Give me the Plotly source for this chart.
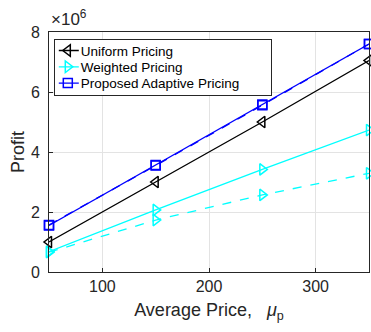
import plotly.graph_objects as go

x_price = [50, 150, 250, 350]
uniform = [1.0e6, 3.0e6, 5.0e6, 7.05e6]
weighted_solid = [0.68e6, 2.07e6, 3.42e6, 4.73e6]
weighted_dashed = [0.66e6, 1.73e6, 2.57e6, 3.29e6]
adaptive_solid = [1.55e6, 3.57e6, 5.58e6, 7.6e6]
adaptive_dashed = [1.57e6, 3.55e6, 5.56e6, 7.6e6]

FONT = "Liberation Sans, Arial, Helvetica, sans-serif"
TXT = "#262626"

fig = go.Figure()

def add(y, name, color, symbol, dash, show, size=10):
    fig.add_trace(go.Scatter(
        x=x_price, y=y, name=name, mode="lines+markers",
        line=dict(color=color, width=1.3, dash=dash),
        marker=dict(symbol=symbol, size=size, color=color, line=dict(color=color, width=1.5)),
        showlegend=show, cliponaxis=False))

add(weighted_dashed, "Weighted Pricing (dashed)", "#00FFFF", "triangle-right-open", "dash", False)
add(weighted_solid, "Weighted Pricing", "#00FFFF", "triangle-right-open", "solid", False)
add(uniform, "Uniform Pricing", "#000000", "triangle-left-open", "solid", False)
add(adaptive_dashed, "Proposed Adaptive Pricing (dashed)", "#0000FF", "square-open", "dash", False, 9)
add(adaptive_solid, "Proposed Adaptive Pricing", "#0000FF", "square-open", "solid", False, 9)

for name, color, symbol, size in [("Uniform Pricing", "#000000", "triangle-left-open", 10),
                                  ("Weighted Pricing", "#00FFFF", "triangle-right-open", 10),
                                  ("Proposed Adaptive Pricing", "#0000FF", "square-open", 9)]:
    fig.add_trace(go.Scatter(x=[None], y=[None], name=name, mode="lines+markers",
                             line=dict(color=color, width=1.3),
                             marker=dict(symbol=symbol, size=size, color=color, line=dict(color=color, width=1.5)),
                             showlegend=True))

axis_common = dict(showgrid=True, gridcolor="#E3E3E3", gridwidth=1, zeroline=False,
                   showline=True, linecolor=TXT, linewidth=1, mirror=True,
                   ticks="inside", ticklen=4, tickcolor=TXT, automargin=False,
                   tickfont=dict(family=FONT, size=16, color=TXT))

fig.update_layout(
    width=371, height=332,
    margin=dict(l=49, r=2, t=32, b=60),
    paper_bgcolor="white", plot_bgcolor="white",
    font=dict(family=FONT, color=TXT),
    xaxis=dict(range=[50, 350], tickvals=[100, 200, 300], **axis_common,
               title=dict(text="Average Price,   <i>μ</i><sub>p</sub>",
                          font=dict(family=FONT, size=18, color=TXT), standoff=9)),
    yaxis=dict(range=[0, 8e6], tickvals=[0, 2e6, 4e6, 6e6, 8e6],
               ticktext=["0", "2", "4", "6", "8"], ticklabelstandoff=5, **axis_common,
               title=dict(text="Profit", font=dict(family=FONT, size=18, color=TXT), standoff=1)),
    legend=dict(x=0.015, y=0.97, xanchor="left", yanchor="top",
                bgcolor="white", bordercolor=TXT, borderwidth=1,
                font=dict(family=FONT, size=13.5, color="#000000"),
                tracegroupgap=0, itemwidth=30),
    annotations=[dict(text="×10<sup>6</sup>", x=0, y=1.0, xref="paper", yref="paper",
                      xanchor="left", yanchor="bottom", showarrow=False, yshift=1,
                      font=dict(family=FONT, size=17, color=TXT))],
)

# Compact the legend (MATLAB-like spacing): tighter rows, shorter symbol lines.
post_js = """
document.body.style.margin='0';document.body.style.overflow='hidden';
try {
  var gd = document.getElementById('{plot_id}');
  var items = gd.querySelectorAll('.legend .traces');
  var y0 = null; var step = 16.3;
  items.forEach(function(t, i){
    var m = (t.getAttribute('transform')||'').match(/translate\\(([^,]+),\\s*([^)]+)\\)/);
    if(!m) return;
    if(y0 === null) y0 = parseFloat(m[2]) - 5;
    t.setAttribute('transform', 'translate(' + m[1] + ',' + (y0 + i*step) + ')');
    var txt = t.querySelector('.legendtext');
    if(txt) txt.setAttribute('x', 26);
    t.querySelectorAll('.legendlines path').forEach(function(p){ p.setAttribute('d', 'M4,0h20'); });
    t.querySelectorAll('.legendpoints path').forEach(function(p){ p.setAttribute('transform', 'translate(13,0)'); });
  });
  var bg = gd.querySelector('.legend .bg');
  if(bg && y0 !== null) {
    bg.setAttribute('height', 2*y0 + 2*step + 1);
    var w = parseFloat(bg.getAttribute('width'));
    if(!isNaN(w)) bg.setAttribute('width', w + 12);
  }
} catch(e) {}
"""

fig.write_html("out.html", config={"displayModeBar": False}, post_script=post_js)
